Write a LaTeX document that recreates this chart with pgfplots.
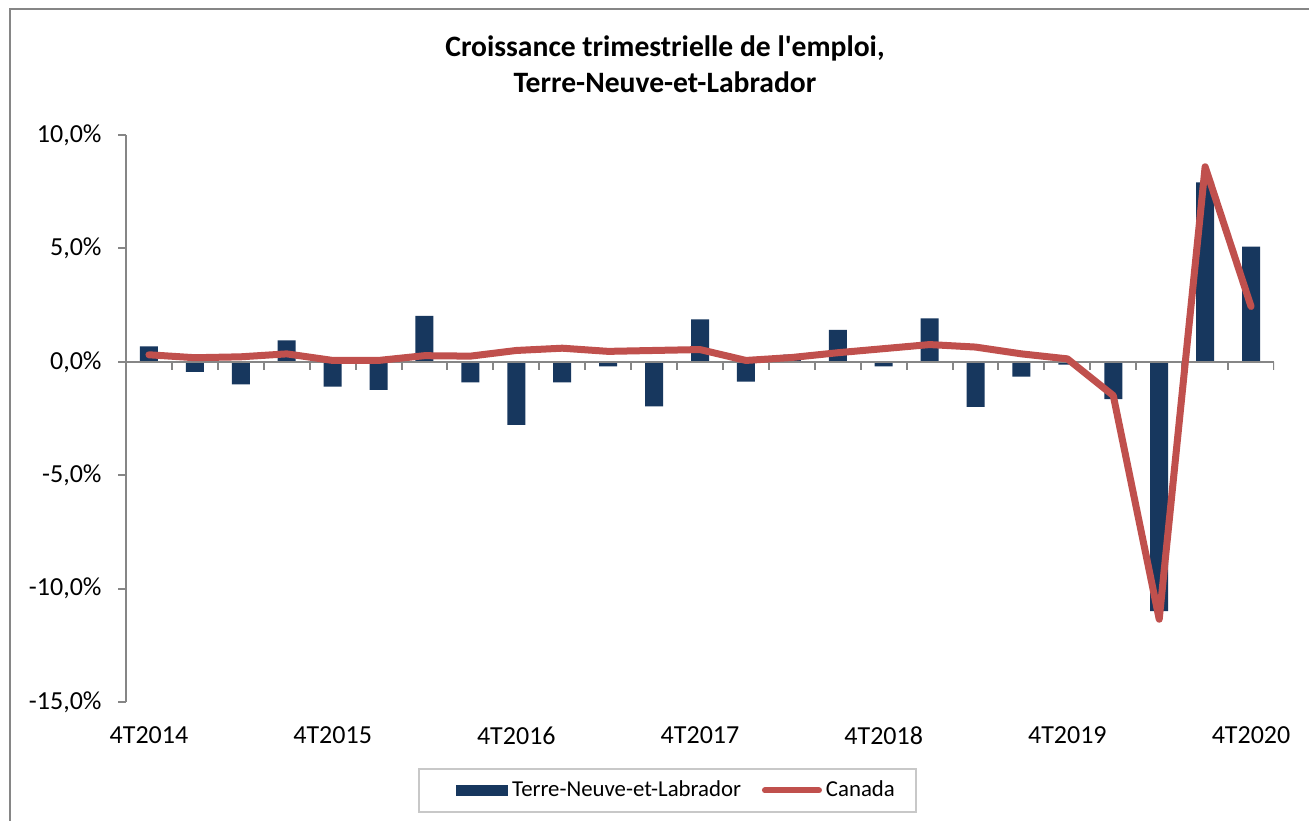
\documentclass[border=0pt]{standalone}
\usepackage{fontspec}
\setmainfont{Carlito}
\usepackage{pgfplots}
\pgfplotsset{compat=1.18}
\definecolor{navy}{HTML}{17375E}
\definecolor{redl}{HTML}{C0504D}
\definecolor{axgray}{HTML}{868686}
\definecolor{leggray}{HTML}{C8C8C8}
\begin{document}
\begin{tikzpicture}[x=1pt,y=1pt]
\useasboundingbox (0,0) rectangle (654.5,410);
\fill[white] (0,0) rectangle (654.5,410);
\draw[axgray, line width=0.8pt] (5,-1) -- (5,405.5) -- (655,405.5);
\node[font=\bfseries\fontsize{14.8}{17}\selectfont, anchor=base] at (332.5,381.7) {Croissance trimestrielle de l\textquotesingle emploi,};
\node[font=\bfseries\fontsize{14.8}{17}\selectfont, anchor=base] at (332.5,363.5) {Terre-Neuve-et-Labrador};
\begin{axis}[
  at={(63pt,59pt)}, anchor=south west,
  scale only axis, width=574pt, height=283.5pt,
  xmin=-0.5, xmax=24.5, ymin=-15, ymax=10,
  axis x line*=bottom, x axis line style={draw=none},
  axis y line*=left, y axis line style={axgray, line width=1pt, -},
  ytick={-15,-10,-5,0,5,10},
  yticklabels={{-15,0\%},{-10,0\%},{-5,0\%},{0,0\%},{5,0\%},{10,0\%}},
  y tick style={axgray, line width=1pt},
  tick align=outside, major tick length=4pt,
  xtick={0,4,...,24},
  xticklabels={4T2014,4T2015,4T2016,4T2017,4T2018,4T2019,4T2020},
  x tick style={draw=none},
  xticklabel style={yshift=-4.7pt},
  yticklabel style={xshift=-4.7pt},
  ticklabel style={font=\fontsize{13}{15}\selectfont},
  /pgf/number format/assume math mode=true,
  legend columns=2,
  legend style={at={(0.4717,-0.156)}, anchor=center, draw=leggray, line width=0.8pt,
    font=\fontsize{11.4}{13}\selectfont, inner xsep=8.5pt, inner ysep=4pt,
    /tikz/every even column/.append style={column sep=8.5pt}},
]
\addplot[ybar, bar width=9pt, fill=navy, draw=none,
  legend image code/.code={\path (-10pt,0pt); \fill[navy] (0pt,-2.75pt) rectangle (26pt,2.75pt);}]
coordinates {
(0,0.68) (1,-0.44) (2,-1.00) (3,0.94) (4,-1.09) (5,-1.24) (6,2.02) (7,-0.91)
(8,-2.78) (9,-0.91) (10,-0.20) (11,-1.96) (12,1.87) (13,-0.87) (14,0.32) (15,1.41)
(16,-0.20) (17,1.91) (18,-1.99) (19,-0.65) (20,-0.12) (21,-1.65) (22,-10.99) (23,7.91) (24,5.08)
};
\addlegendentry{Terre-Neuve-et-Labrador}
\draw[axgray, line width=1pt] (axis cs:-0.5,0) -- (axis cs:24.5,0);
\pgfplotsinvokeforeach{0,...,25}{\draw[axgray, line width=1pt] (axis cs:#1-0.5,0) -- ([yshift=-4pt]axis cs:#1-0.5,0);}
\addplot[redl, line width=3.5pt, line join=round, line cap=round, mark=none,
  legend image code/.code={\draw[redl, line width=3pt, line cap=round] (0pt,0pt) -- (27pt,0pt);}]
coordinates {
(0,0.31) (1,0.18) (2,0.22) (3,0.35) (4,0.06) (5,0.06) (6,0.27) (7,0.25)
(8,0.50) (9,0.60) (10,0.46) (11,0.50) (12,0.54) (13,0.06) (14,0.19) (15,0.40)
(16,0.58) (17,0.76) (18,0.65) (19,0.35) (20,0.13) (21,-1.49) (22,-11.35) (23,8.6) (24,2.44)
};
\addlegendentry{Canada}
\end{axis}
\end{tikzpicture}
\end{document}
